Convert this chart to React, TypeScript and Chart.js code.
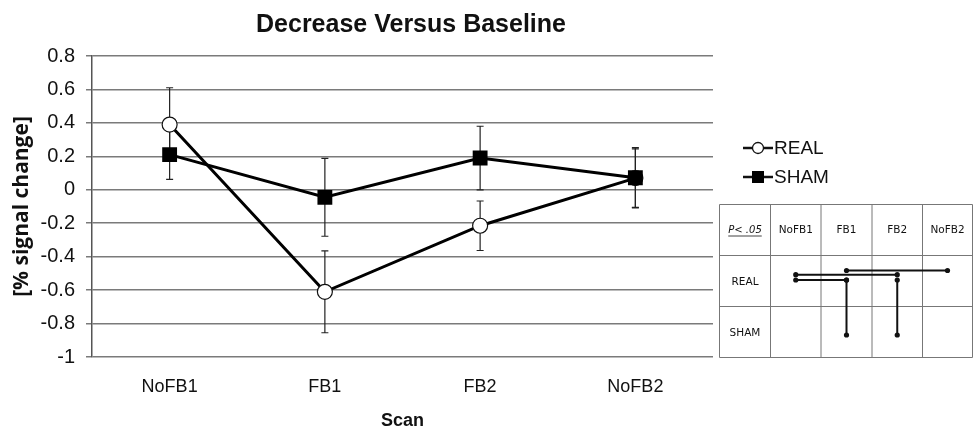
import React, { useEffect, useRef } from 'react';
import { Chart, registerables } from 'chart.js';

Chart.register(...registerables);

// ---- data ----
const chartTitle = 'Decrease Versus Baseline';
const scans = ['NoFB1', 'FB1', 'FB2', 'NoFB2'];
const realMean = [0.39, -0.61, -0.215, 0.07];
const realErr = [0.22, 0.245, 0.148, 0.175];
const shamMean = [0.21, -0.045, 0.19, 0.072];
const shamErr = [0.148, 0.233, 0.19, 0.18];
const yMin = -1;
const yMax = 0.8;
const yStep = 0.2;

// significance table
const tableHeader = ['P< .05', 'NoFB1', 'FB1', 'FB2', 'NoFB2'];
const tableRows = ['REAL', 'SHAM'];
// [fromRow, fromCol, toRow, toCol, lane]
const sigLinks: [string, string, string, string, number][] = [
  ['REAL', 'FB1', 'REAL', 'NoFB2', 0],
  ['REAL', 'NoFB1', 'REAL', 'FB2', 1],
  ['REAL', 'NoFB1', 'REAL', 'FB1', 2],
  ['REAL', 'FB1', 'SHAM', 'FB1', 2],
  ['REAL', 'FB2', 'SHAM', 'FB2', 2],
];

const FONT = "'Liberation Sans', Arial, sans-serif";

const titlePlugin = {
  id: 'customTitle',
  afterDraw(chart: any) {
    const { ctx } = chart;
    ctx.save();
    ctx.font = `bold 25px ${FONT}`;
    ctx.fillStyle = '#111';
    ctx.textAlign = 'center';
    ctx.textBaseline = 'middle';
    ctx.fillText(chartTitle, 411, 25);
    ctx.restore();
  },
};

const errorBarPlugin = {
  id: 'errorBars',
  beforeDatasetsDraw(chart: any) {
    const { ctx } = chart;
    const y = chart.scales.y;
    chart.data.datasets.forEach((ds: any, i: number) => {
      const meta = chart.getDatasetMeta(i);
      meta.data.forEach((pt: any, j: number) => {
        const v = ds.data[j];
        const e = ds.errors[j];
        const top = y.getPixelForValue(v + e);
        const bot = y.getPixelForValue(v - e);
        const px = pt.x;
        ctx.save();
        ctx.strokeStyle = '#222';
        ctx.lineWidth = 1.2;
        ctx.beginPath();
        ctx.moveTo(px, top);
        ctx.lineTo(px, bot);
        ctx.moveTo(px - 3.5, top);
        ctx.lineTo(px + 3.5, top);
        ctx.moveTo(px - 3.5, bot);
        ctx.lineTo(px + 3.5, bot);
        ctx.stroke();
        ctx.restore();
      });
    });
  },
};

const legendPlugin = {
  id: 'customLegend',
  afterDraw(chart: any) {
    const { ctx } = chart;
    const rows = [0, 1];
    rows.forEach((i) => {
      const ds = chart.data.datasets[i];
      const cy = 148 + i * 29;
      ctx.save();
      ctx.strokeStyle = '#111';
      ctx.lineWidth = 2.5;
      ctx.beginPath();
      ctx.moveTo(743, cy);
      ctx.lineTo(773, cy);
      ctx.stroke();
      if (ds.pointStyle === 'circle') {
        ctx.beginPath();
        ctx.arc(758, cy, 5.5, 0, Math.PI * 2);
        ctx.fillStyle = '#fff';
        ctx.fill();
        ctx.lineWidth = 1.3;
        ctx.stroke();
      } else {
        ctx.fillStyle = '#000';
        ctx.fillRect(752, cy - 6, 12, 12);
      }
      ctx.fillStyle = '#111';
      ctx.font = `19px ${FONT}`;
      ctx.textAlign = 'left';
      ctx.textBaseline = 'middle';
      ctx.fillText(ds.label, 774, cy + 1);
      ctx.restore();
    });
  },
};

const tablePlugin = {
  id: 'sigTable',
  afterDraw(chart: any) {
    const { ctx } = chart;
    const colEdges = [719.5, 770.5, 821, 872, 922.5, 972.5];
    const rowEdges = [204.5, 255.5, 306.5, 357.5];
    ctx.save();
    ctx.strokeStyle = '#777';
    ctx.lineWidth = 1;
    ctx.beginPath();
    colEdges.forEach((x) => {
      ctx.moveTo(x, rowEdges[0]);
      ctx.lineTo(x, rowEdges[rowEdges.length - 1]);
    });
    rowEdges.forEach((yy) => {
      ctx.moveTo(colEdges[0], yy);
      ctx.lineTo(colEdges[colEdges.length - 1], yy);
    });
    ctx.stroke();

    const colCenter = (c: number) => (colEdges[c] + colEdges[c + 1]) / 2;
    const rowCenter = (r: number) => (rowEdges[r] + rowEdges[r + 1]) / 2;

    ctx.fillStyle = '#111';
    ctx.textAlign = 'center';
    ctx.textBaseline = 'middle';
    tableHeader.forEach((h, c) => {
      if (c === 0) {
        ctx.font = `italic 10px 'DejaVu Sans', Verdana, sans-serif`;
        const w = ctx.measureText(h).width;
        ctx.fillText(h, colCenter(0), rowCenter(0));
        ctx.beginPath();
        ctx.lineWidth = 0.8;
        ctx.strokeStyle = '#111';
        ctx.moveTo(colCenter(0) - w / 2, rowCenter(0) + 6);
        ctx.lineTo(colCenter(0) + w / 2, rowCenter(0) + 6);
        ctx.stroke();
      } else {
        ctx.font = `10.5px 'DejaVu Sans', Verdana, sans-serif`;
        ctx.fillText(h, colCenter(c), rowCenter(0));
      }
    });
    ctx.font = `10.5px 'DejaVu Sans', Verdana, sans-serif`;
    tableRows.forEach((r, i) => {
      ctx.fillText(r, colCenter(0), rowCenter(i + 1) + 1);
    });

    const laneOffset = [-10.5, -6.3, -1];
    const colIdx = (name: string) => tableHeader.indexOf(name);
    const rowIdx = (name: string) => tableRows.indexOf(name) + 1;
    ctx.strokeStyle = '#111';
    ctx.fillStyle = '#111';
    ctx.lineWidth = 2;
    sigLinks.forEach(([r1, c1, r2, c2, lane]) => {
      const x1 = colCenter(colIdx(c1));
      const x2 = colCenter(colIdx(c2));
      const y1 = rowCenter(rowIdx(r1)) + laneOffset[lane];
      const y2 = r1 === r2 ? y1 : rowCenter(rowIdx(r2)) + 3;
      ctx.beginPath();
      ctx.moveTo(x1, y1);
      ctx.lineTo(x2, y2);
      ctx.stroke();
      [[x1, y1], [x2, y2]].forEach(([px, py]) => {
        ctx.beginPath();
        ctx.arc(px, py, 2.6, 0, Math.PI * 2);
        ctx.fill();
      });
    });
    ctx.restore();
  },
};

export default function App() {
  const ref = useRef<HTMLCanvasElement | null>(null);

  useEffect(() => {
    if (!ref.current) return;
    const chart = new Chart(ref.current, {
      type: 'line',
      data: {
        labels: scans,
        datasets: [
          {
            label: 'REAL',
            data: realMean,
            errors: realErr,
            borderColor: '#000',
            borderWidth: 3,
            pointStyle: 'circle',
            pointRadius: 7.5,
            pointBackgroundColor: '#fff',
            pointBorderColor: '#111',
            pointBorderWidth: 1.2,
            fill: false,
            tension: 0,
            order: 1,
          } as any,
          {
            label: 'SHAM',
            data: shamMean,
            errors: shamErr,
            borderColor: '#000',
            borderWidth: 3,
            pointStyle: 'rect',
            pointRadius: 10.5,
            pointBackgroundColor: '#000',
            pointBorderColor: '#000',
            pointBorderWidth: 0,
            fill: false,
            tension: 0,
            order: 0,
          } as any,
        ],
      },
      options: {
        responsive: false,
        animation: false,
        events: [],
        layout: { padding: { top: 56, right: 261, left: 0, bottom: 0 } },
        plugins: {
          legend: { display: false },
          title: { display: false },
          tooltip: { enabled: false },
        },
        scales: {
          x: {
            type: 'category',
            offset: true,
            grid: { display: false, drawTicks: false },
            border: { display: false },
            ticks: {
              color: '#111',
              font: { family: FONT, size: 18 },
              padding: 19,
            },
            title: {
              display: true,
              text: 'Scan',
              color: '#111',
              font: { family: FONT, size: 18, weight: 'bold' },
              padding: { top: 0, bottom: 8 },
            },
            afterFit(scale: any) {
              scale.height = 83;
            },
          },
          y: {
            min: yMin,
            max: yMax,
            ticks: {
              stepSize: yStep,
              color: '#111',
              font: { family: FONT, size: 20 },
              padding: 11,
              callback: (v: any) => String(Number(Number(v).toFixed(1))),
            },
            grid: {
              color: '#7a7a7a',
              lineWidth: 1.5,
              tickLength: 6,
              drawTicks: true,
            },
            border: { display: true, color: '#555', width: 1.5 },
            title: {
              display: true,
              text: '[% signal change]',
              color: '#111',
              font: { family: "'Open Sans', sans-serif", size: 21, weight: 'bold' },
              padding: { top: 9, bottom: 0 },
            },
            afterFit(scale: any) {
              scale.width = 92;
            },
          },
        },
      } as any,
      plugins: [errorBarPlugin, titlePlugin, legendPlugin, tablePlugin],
    });
    return () => chart.destroy();
  }, []);

  return (
    <div style={{ position: 'fixed', left: 0, top: 0, width: 974, height: 440, background: '#fff' }}>
      <canvas ref={ref} width={974} height={440} style={{ width: 974, height: 440 }} />
    </div>
  );
}
